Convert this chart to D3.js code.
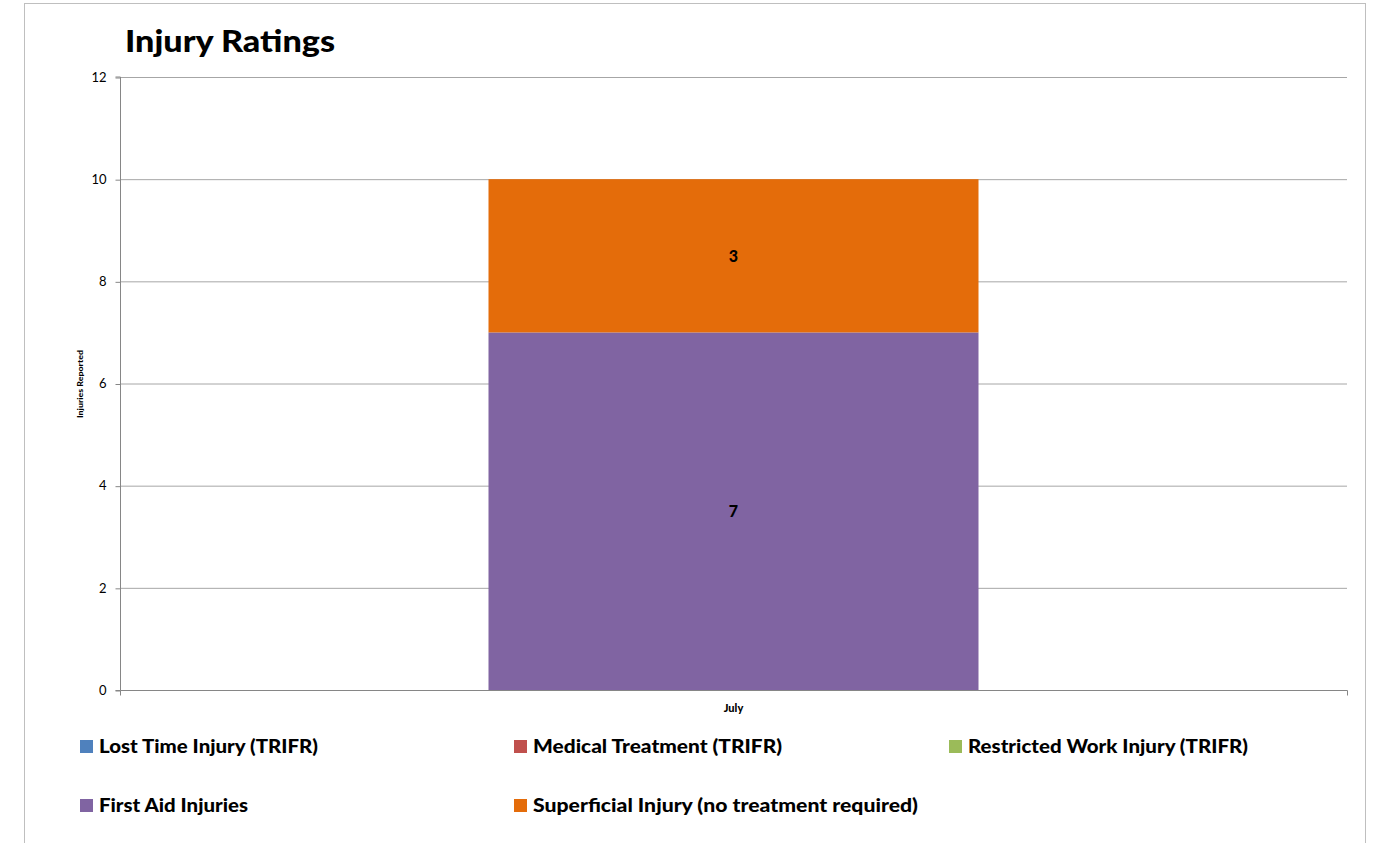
<!DOCTYPE html>
<html><head><meta charset="utf-8">
<script src="https://cdn.jsdelivr.net/npm/d3@7"></script>
<style>body{margin:0;background:#fff;} svg{display:block;font-family:Lato,"Open Sans",sans-serif;}</style>
</head><body>
<svg id="c" width="1382" height="843"></svg>
<script>
const categories = ["July"];
const seriesNames = ["Lost Time Injury (TRIFR)", "Medical Treatment (TRIFR)", "Restricted Work Injury (TRIFR)", "First Aid Injuries", "Superficial Injury (no treatment required)"];
const seriesColors = ["#4F81BD", "#C0504D", "#9BBB59", "#8064A2", "#E46C0A"];
const lostTime = [0];
const medical = [0];
const restricted = [0];
const firstAid = [7];
const superficial = [3];
const yTicks = [0, 2, 4, 6, 8, 10, 12];

const svg = d3.select("#c");
// frame
svg.append("rect").attr("x", 24.5).attr("y", 3.5).attr("width", 1341).attr("height", 900)
  .attr("fill", "#fff").attr("stroke", "#bfbfbf").attr("stroke-width", 1);

const m = {l: 120, r: 1347, t: 77, b: 690};
const x = d3.scaleBand().domain(categories).range([m.l, m.r]).paddingInner(0).paddingOuter(0.3);
const y = d3.scaleLinear().domain([0, 12]).range([m.b, m.t]);

// gridlines
svg.append("g").selectAll("line").data(yTicks.filter(t => t > 0)).join("line")
  .attr("x1", m.l).attr("x2", m.r).attr("y1", d => y(d) + 0.5).attr("y2", d => y(d) + 0.5)
  .attr("stroke", "#a6a6a6").attr("stroke-width", 1);

// stacked bars
const rows = categories.map((c, i) => ({cat: c, s0: lostTime[i], s1: medical[i], s2: restricted[i], s3: firstAid[i], s4: superficial[i]}));
const stack = d3.stack().keys(["s0", "s1", "s2", "s3", "s4"])(rows);
const bw = 490;
stack.forEach((layer, li) => {
  svg.append("g").selectAll("rect").data(layer).join("rect")
    .attr("x", d => x(d.data.cat) + x.bandwidth() / 2 - bw / 2)
    .attr("width", bw)
    .attr("y", d => y(d[1]))
    .attr("height", d => y(d[0]) - y(d[1]))
    .attr("fill", seriesColors[li]);
  svg.append("g").selectAll("text").data(layer.filter(d => d[1] - d[0] > 0)).join("text")
    .attr("x", d => x(d.data.cat) + x.bandwidth() / 2)
    .attr("y", d => (y(d[0]) + y(d[1])) / 2 + 6)
    .attr("text-anchor", "middle").attr("font-weight", 900).attr("font-size", 16)
    .text(d => d[1] - d[0]);
});

// y axis
const ya = svg.append("g").attr("transform", `translate(${m.l + 0.5},0)`)
  .call(d3.axisLeft(y).tickValues(yTicks).tickSize(5).tickPadding(9).tickFormat(d3.format("d")));
ya.select(".domain").attr("stroke", "#868686").attr("d", `M-5,${m.b + 0.5}H0V${m.t}H-5`);
ya.selectAll(".tick line").attr("stroke", "#868686").attr("transform", "translate(0,0.5)");
ya.selectAll(".tick text").attr("font-size", 13).attr("font-family", "Lato,'Open Sans',sans-serif").attr("fill", "#000");

// x axis
const xa = svg.append("g").attr("transform", `translate(0,${m.b + 0.5})`)
  .call(d3.axisBottom(x).tickSize(0).tickPadding(14));
xa.select(".domain").attr("stroke", "#868686").attr("d", `M${m.l + 0.5},5V0H${m.r + 0.5}V5`);
xa.selectAll(".tick text").attr("font-size", 11).attr("font-weight", 900).attr("font-family", "Lato,'Open Sans',sans-serif").attr("fill", "#000");

// axis title
svg.append("text").attr("transform", "translate(83,384) rotate(-90)")
  .attr("text-anchor", "middle").attr("font-size", 7).attr("font-weight", 900)
  .attr("textLength", 68).attr("lengthAdjust", "spacingAndGlyphs").text("Injuries Reported");

// title
svg.append("text").attr("x", 125).attr("y", 52).attr("font-size", 31).attr("font-weight", 900)
  .attr("textLength", 210).attr("lengthAdjust", "spacingAndGlyphs").text("Injury Ratings");

// legend
const legPos = [[80, 746], [514, 746], [949, 746], [80, 805], [514, 805]];
const legTextWidths = [219, 249, 280, 149, 385];
const lg = svg.append("g").selectAll("g").data(seriesNames).join("g")
  .attr("transform", (d, i) => `translate(${legPos[i][0]},${legPos[i][1]})`);
lg.append("rect").attr("x", 0).attr("y", -6).attr("width", 13).attr("height", 13).attr("fill", (d, i) => seriesColors[i]);
lg.append("text").attr("x", 19).attr("y", 7).attr("font-size", 19).attr("font-weight", 900)
  .attr("textLength", (d, i) => legTextWidths[i]).attr("lengthAdjust", "spacingAndGlyphs").text(d => d);
</script>
</body></html>
